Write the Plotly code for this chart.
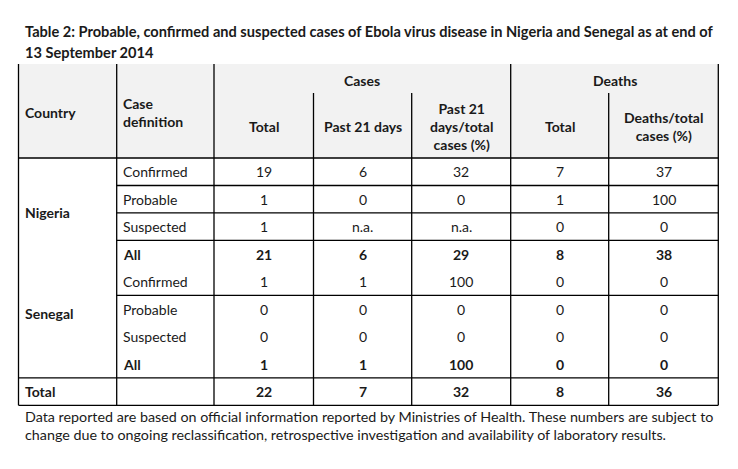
import plotly.graph_objects as go
from typing import List

FONT: str = 'Lato'
TEXT_COLOR: str = '#1a1a1a'
HEADER_BG: str = '#f2f2f2'
LINE_COLOR: str = 'black'
SIZE: int = 14

TITLE_LINES: List[str] = [
    'Table 2: Probable, confirmed and suspected cases of Ebola virus disease in Nigeria and Senegal as at end of',
    '13 September 2014',
]
FOOTNOTE_LINES: List[str] = [
    'Data reported are based on official information reported by Ministries of Health. These numbers are subject to',
    'change due to ongoing reclassification, retrospective investigation and availability of laboratory results.',
]

# table data
countries: List[str] = ['Nigeria', 'Senegal', 'Total']
case_defs: List[str] = ['Confirmed', 'Probable', 'Suspected', 'All',
                        'Confirmed', 'Probable', 'Suspected', 'All', '']
cases_total: List[str] = ['19', '1', '1', '21', '1', '0', '0', '1', '22']
cases_21d: List[str] = ['6', '0', 'n.a.', '6', '1', '0', '0', '1', '7']
cases_21d_pct: List[str] = ['32', '0', 'n.a.', '29', '100', '0', '0', '100', '32']
deaths_total: List[str] = ['7', '1', '0', '8', '0', '0', '0', '0', '8']
deaths_pct: List[str] = ['37', '100', '0', '38', '0', '0', '0', '0', '36']
bold_rows: List[int] = [3, 7, 8]

# layout of the table (screen pixels in a 738x469 window)
PAGE_OFFSET: float = 8  # default body margin of the html page
COL_EDGES: List[float] = [18.5, 116.7, 214, 313.5, 411.7, 510.7, 608.7, 718.3]
TOP: float = 64
SUB_TOP: float = 93
HEAD_BOTTOM: float = 158
BOTTOM: float = 405.3
N_ROWS: int = 9
ROW_H: float = (BOTTOM - HEAD_BOTTOM) / N_ROWS
PAD: float = 4.5


def row_center(i: int) -> float:
    return HEAD_BOTTOM + ROW_H * (i + 0.5)


def row_edge(k: float) -> float:
    return HEAD_BOTTOM + ROW_H * k


def col_center(j: int) -> float:
    return (COL_EDGES[j] + COL_EDGES[j + 1]) / 2


def add_line(fig: go.Figure, x0: float, y0: float, x1: float, y1: float) -> None:
    fig.add_shape(type='line', x0=x0, y0=y0, x1=x1, y1=y1,
                  line={'color': LINE_COLOR, 'width': 1.3}, layer='above')


def add_text(fig: go.Figure, x: float, y: float, text: str, bold: bool = False,
             anchor: str = 'center', size: float = SIZE) -> None:
    fig.add_annotation(
        x=x, y=y, text=f'<b>{text}</b>' if bold else text,
        showarrow=False, xanchor=anchor, yanchor='middle', align=anchor,
        font={'family': FONT, 'size': size, 'color': TEXT_COLOR})


if __name__ == '__main__':
    fig: go.Figure = go.Figure()

    # header background
    fig.add_shape(type='rect', x0=COL_EDGES[0], x1=COL_EDGES[-1], y0=TOP, y1=HEAD_BOTTOM,
                  fillcolor=HEADER_BG, line={'width': 0}, layer='below')

    # vertical lines
    for j, x in enumerate(COL_EDGES):
        y0 = SUB_TOP if j in (3, 4, 6) else TOP
        add_line(fig, x, y0, x, BOTTOM)

    # horizontal lines
    for k in (0, 8, 9):
        add_line(fig, COL_EDGES[0], row_edge(k), COL_EDGES[-1], row_edge(k))
    for k in (1, 2, 3, 5):
        add_line(fig, COL_EDGES[1], row_edge(k), COL_EDGES[-1], row_edge(k))

    # header texts
    add_text(fig, COL_EDGES[0] + PAD, 112, 'Country', bold=True, anchor='left')
    add_text(fig, COL_EDGES[1] + PAD, 112, 'Case<br>definition', bold=True, anchor='left')
    add_text(fig, (COL_EDGES[2] + COL_EDGES[5]) / 2, 80, 'Cases', bold=True)
    add_text(fig, (COL_EDGES[5] + COL_EDGES[7]) / 2, 80, 'Deaths', bold=True)
    add_text(fig, col_center(2), 126, 'Total', bold=True)
    add_text(fig, col_center(3), 126, 'Past 21 days', bold=True)
    add_text(fig, col_center(4), 126, 'Past 21<br>days/total<br>cases (%)', bold=True)
    add_text(fig, col_center(5), 126, 'Total', bold=True)
    add_text(fig, col_center(6), 126, 'Deaths/total<br>cases (%)', bold=True)

    # country labels
    add_text(fig, COL_EDGES[0] + PAD, row_edge(2), countries[0], bold=True, anchor='left')
    add_text(fig, COL_EDGES[0] + PAD, row_edge(5.65), countries[1], bold=True, anchor='left')
    add_text(fig, COL_EDGES[0] + PAD, row_center(8), countries[2], bold=True, anchor='left')

    # body
    columns = [cases_total, cases_21d, cases_21d_pct, deaths_total, deaths_pct]
    for i in range(N_ROWS):
        bold = i in bold_rows
        y = row_center(i)
        if case_defs[i]:
            add_text(fig, COL_EDGES[1] + PAD, y, case_defs[i], bold=bold, anchor='left')
        for j, values in enumerate(columns):
            add_text(fig, col_center(j + 2), y, values[i], bold=bold)

    # title and footnote
    add_text(fig, 23, 31, TITLE_LINES[0], bold=True, anchor='left', size=14.6)
    add_text(fig, 23, 52, TITLE_LINES[1], bold=True, anchor='left', size=14.6)
    add_text(fig, 23, 416, FOOTNOTE_LINES[0], anchor='left', size=14.3)
    add_text(fig, 23, 434, FOOTNOTE_LINES[1], anchor='left', size=14.3)

    fig.update_layout(
        width=738,
        height=469,
        margin={'l': 0, 'r': 0, 't': 0, 'b': 0},
        xaxis={'range': [PAGE_OFFSET, 738 + PAGE_OFFSET], 'visible': False, 'fixedrange': True},
        yaxis={'range': [469 + PAGE_OFFSET, PAGE_OFFSET], 'visible': False, 'fixedrange': True},
        plot_bgcolor='white',
        paper_bgcolor='white',
        showlegend=False,
    )
    fig.write_html('out.html')
